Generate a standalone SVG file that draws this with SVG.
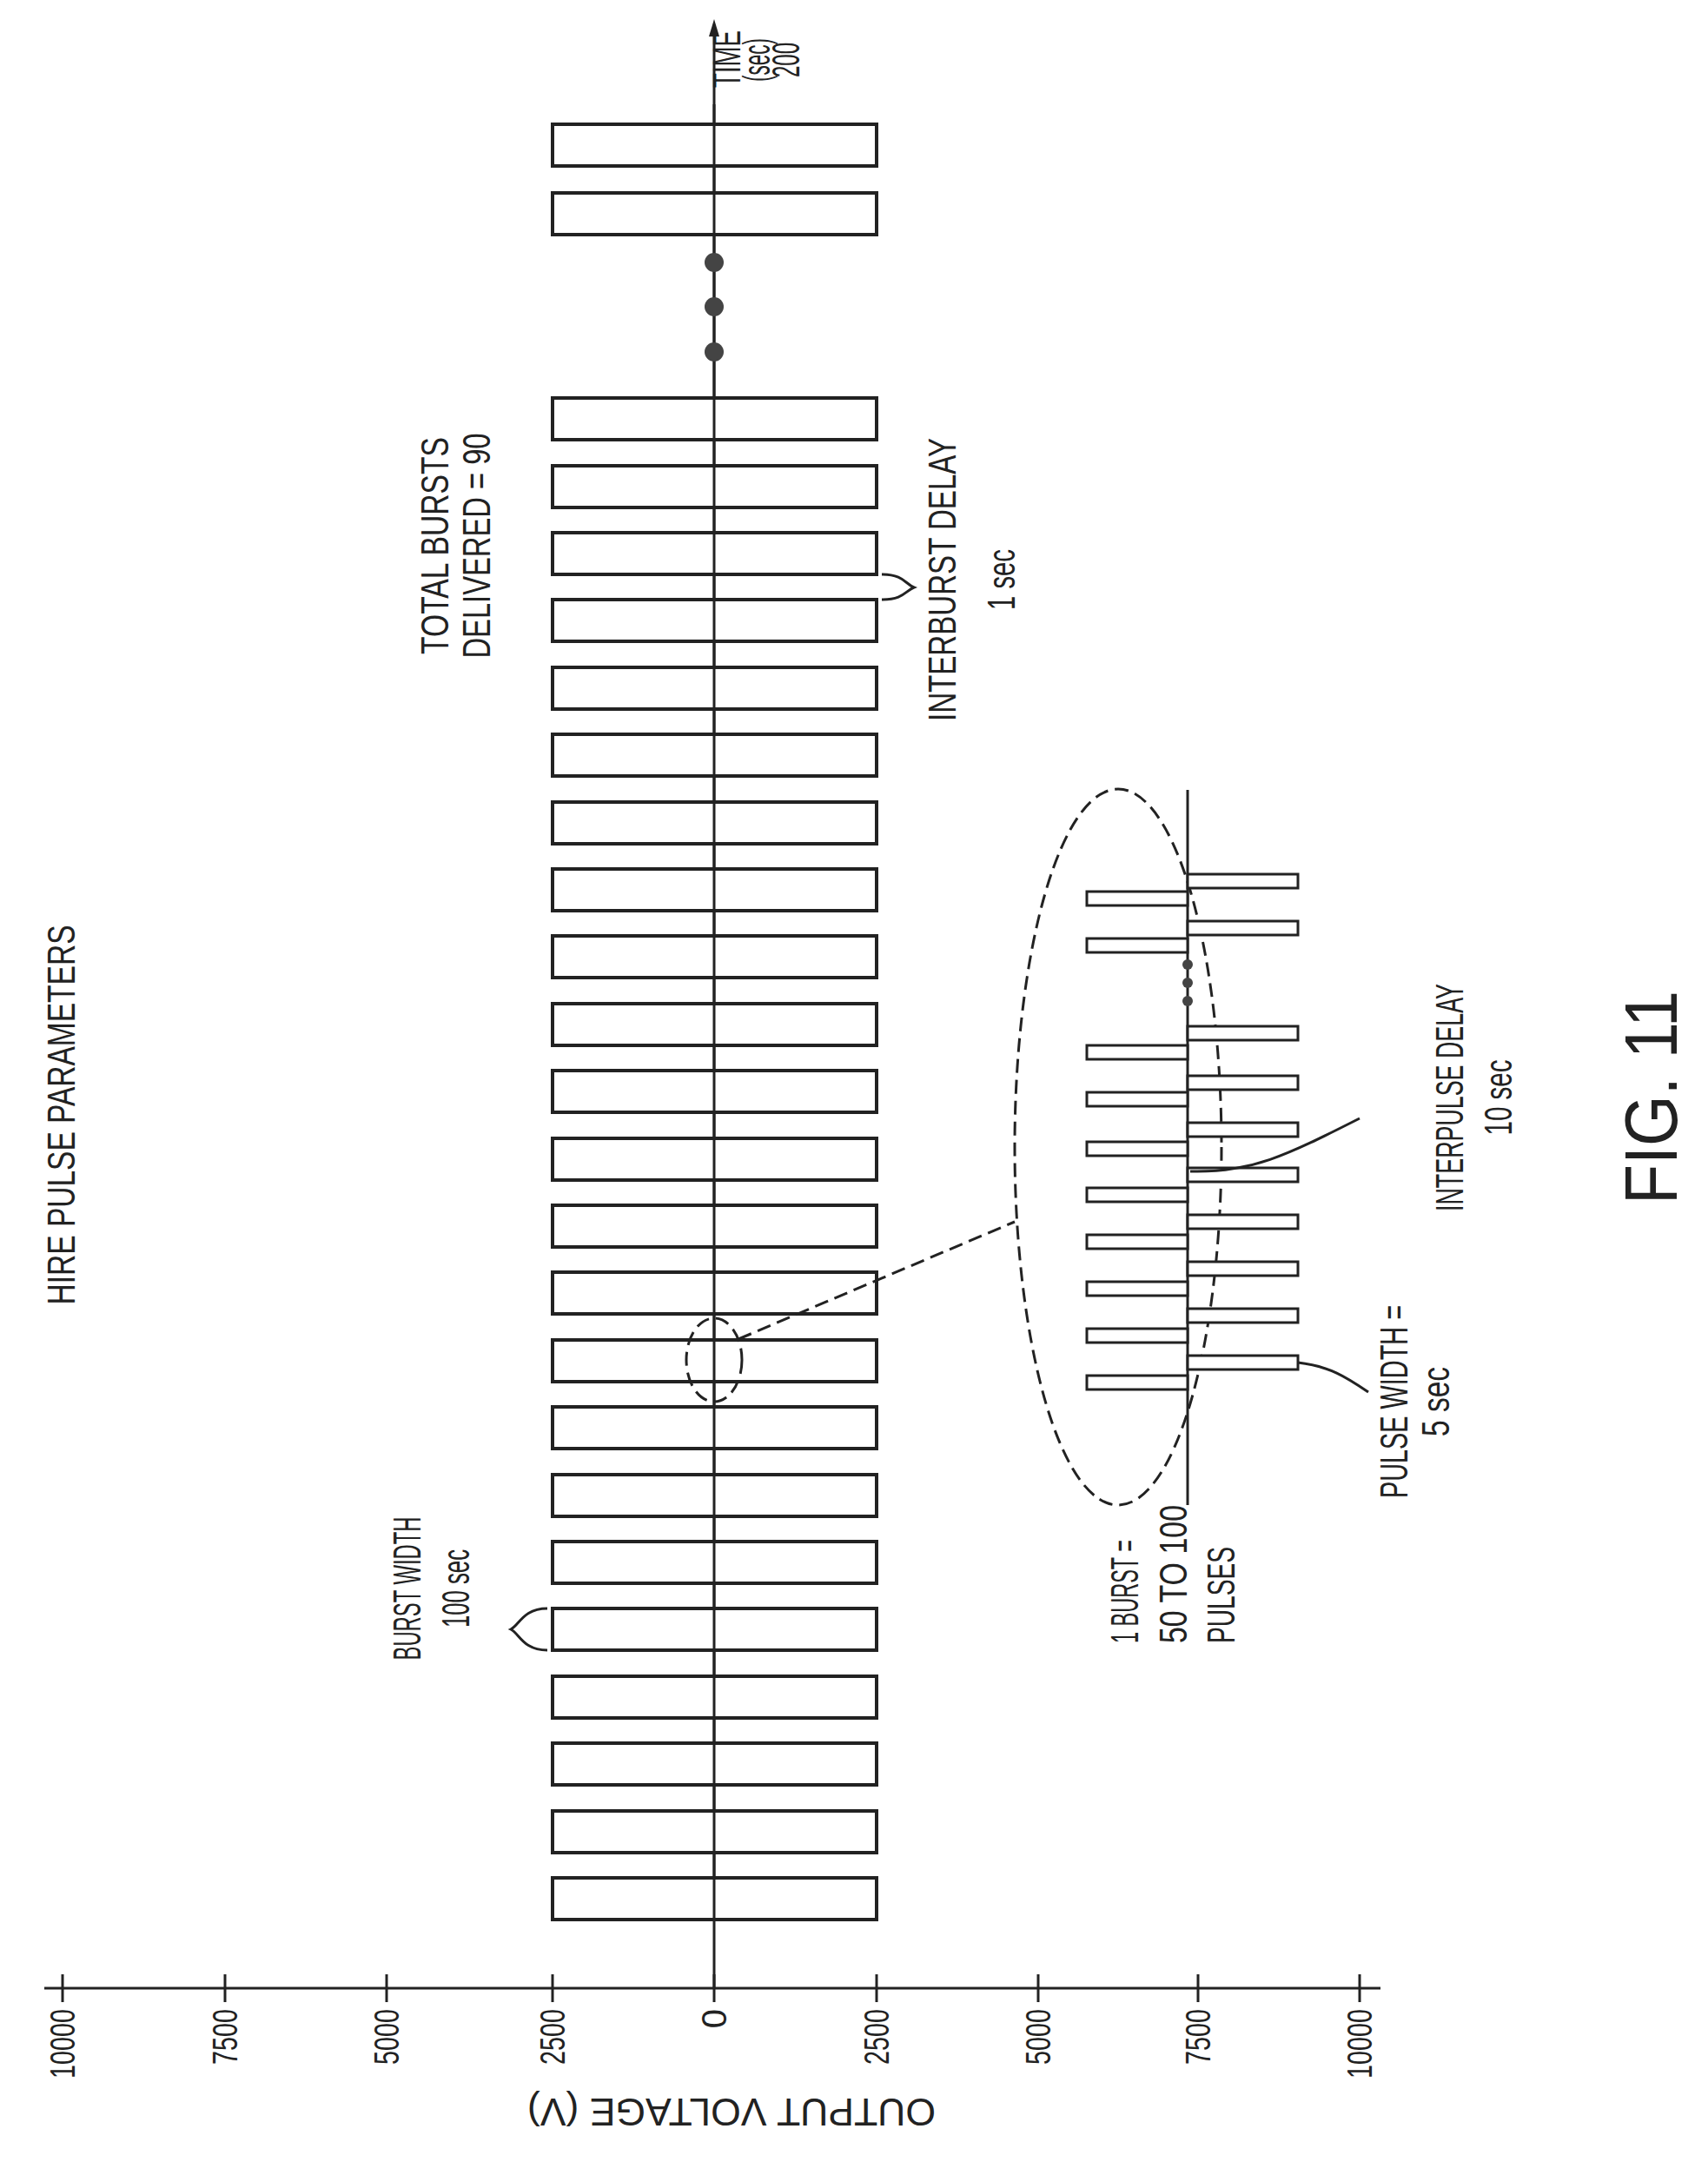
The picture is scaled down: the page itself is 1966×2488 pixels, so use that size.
<svg xmlns="http://www.w3.org/2000/svg" width="1966" height="2488" viewBox="0 0 1966 2488">
<style>
.l{stroke:#222;stroke-width:3;fill:none}
.b{stroke:#222;stroke-width:4;fill:#fff}
.p{stroke:#222;stroke-width:3;fill:#fff}
.d{stroke:#222;stroke-width:3;fill:none;stroke-dasharray:16 8}
text{font-family:"Liberation Sans",Arial,sans-serif;font-size:44px;fill:#222}
.t{font-size:40px}
</style>
<defs>
<marker id="ar" markerWidth="12" markerHeight="20" refX="6" refY="18" orient="0" markerUnits="userSpaceOnUse">
<path d="M0,20 L6,0 L12,20 Z" fill="#222"/>
</marker>
</defs>
<rect width="1966" height="2488" fill="#fff"/>
<g id="axes">
<line class="l" x1="822" y1="2288" x2="822" y2="40" marker-end="url(#ar)"/>
<line class="l" x1="51" y1="2288" x2="1589" y2="2288"/>
<g class="l">
<line x1="72" y1="2272" x2="72" y2="2304"/><line x1="259" y1="2272" x2="259" y2="2304"/><line x1="445" y1="2272" x2="445" y2="2304"/><line x1="636" y1="2272" x2="636" y2="2304"/><line x1="822" y1="2272" x2="822" y2="2304"/><line x1="1009" y1="2272" x2="1009" y2="2304"/><line x1="1195" y1="2272" x2="1195" y2="2304"/><line x1="1379" y1="2272" x2="1379" y2="2304"/><line x1="1565" y1="2272" x2="1565" y2="2304"/>
</g>
<g class="t" text-anchor="end">
<text class="t" transform="translate(86,2312) rotate(-90)" textLength="80" lengthAdjust="spacingAndGlyphs">10000</text>
<text class="t" transform="translate(273,2312) rotate(-90)" textLength="64" lengthAdjust="spacingAndGlyphs">7500</text>
<text class="t" transform="translate(459,2312) rotate(-90)" textLength="64" lengthAdjust="spacingAndGlyphs">5000</text>
<text class="t" transform="translate(650,2312) rotate(-90)" textLength="64" lengthAdjust="spacingAndGlyphs">2500</text>
<text class="t" transform="translate(836,2312) rotate(-90)">0</text>
<text class="t" transform="translate(1023,2312) rotate(-90)" textLength="64" lengthAdjust="spacingAndGlyphs">2500</text>
<text class="t" transform="translate(1209,2312) rotate(-90)" textLength="64" lengthAdjust="spacingAndGlyphs">5000</text>
<text class="t" transform="translate(1393,2312) rotate(-90)" textLength="64" lengthAdjust="spacingAndGlyphs">7500</text>
<text class="t" transform="translate(1579,2312) rotate(-90)" textLength="80" lengthAdjust="spacingAndGlyphs">10000</text>
</g>
<text transform="translate(842,2415) rotate(180)" text-anchor="middle" textLength="470" lengthAdjust="spacingAndGlyphs">OUTPUT VOLTAGE (V)</text>
<text transform="translate(852,68) rotate(-90)" text-anchor="middle" textLength="66" lengthAdjust="spacingAndGlyphs">TIME</text>
<text transform="translate(886,69) rotate(-90)" text-anchor="middle" textLength="50" lengthAdjust="spacingAndGlyphs">(sec)</text>
<text transform="translate(920,69) rotate(-90)" text-anchor="middle" textLength="40" lengthAdjust="spacingAndGlyphs">200</text>
</g>
<g id="bursts">
<rect class="b" x="636" y="2161" width="373" height="48"/>
<rect class="b" x="636" y="2084" width="373" height="48"/>
<rect class="b" x="636" y="2006" width="373" height="48"/>
<rect class="b" x="636" y="1929" width="373" height="48"/>
<rect class="b" x="636" y="1851" width="373" height="48"/>
<rect class="b" x="636" y="1774" width="373" height="48"/>
<rect class="b" x="636" y="1697" width="373" height="48"/>
<rect class="b" x="636" y="1619" width="373" height="48"/>
<rect class="b" x="636" y="1542" width="373" height="48"/>
<rect class="b" x="636" y="1464" width="373" height="48"/>
<rect class="b" x="636" y="1387" width="373" height="48"/>
<rect class="b" x="636" y="1310" width="373" height="48"/>
<rect class="b" x="636" y="1232" width="373" height="48"/>
<rect class="b" x="636" y="1155" width="373" height="48"/>
<rect class="b" x="636" y="1077" width="373" height="48"/>
<rect class="b" x="636" y="1000" width="373" height="48"/>
<rect class="b" x="636" y="923" width="373" height="48"/>
<rect class="b" x="636" y="845" width="373" height="48"/>
<rect class="b" x="636" y="768" width="373" height="48"/>
<rect class="b" x="636" y="690" width="373" height="48"/>
<rect class="b" x="636" y="613" width="373" height="48"/>
<rect class="b" x="636" y="536" width="373" height="48"/>
<rect class="b" x="636" y="458" width="373" height="48"/>
<rect class="b" x="636" y="222" width="373" height="48"/>
<rect class="b" x="636" y="143" width="373" height="48"/>
<line class="l" x1="822" y1="2209" x2="822" y2="120"/>
<circle cx="822" cy="302" r="11" fill="#444"/>
<circle cx="822" cy="353" r="11" fill="#444"/>
<circle cx="822" cy="405" r="11" fill="#444"/>
</g>
<g id="title"><text transform="translate(86,1283) rotate(-90)" text-anchor="middle" textLength="437" lengthAdjust="spacingAndGlyphs">HIRE PULSE PARAMETERS</text></g>
<g id="burst-width">
<path class="l" d="M630,1851 C602,1851 598,1870 588,1875 C598,1880 602,1899 630,1899"/>
<text transform="translate(484,1828) rotate(-90)" text-anchor="middle" textLength="165" lengthAdjust="spacingAndGlyphs">BURST WIDTH</text>
<text transform="translate(540,1828) rotate(-90)" text-anchor="middle" textLength="90" lengthAdjust="spacingAndGlyphs">100 sec</text>
</g>
<g id="total-bursts">
<text transform="translate(516,628) rotate(-90)" text-anchor="middle" textLength="250" lengthAdjust="spacingAndGlyphs">TOTAL BURSTS</text>
<text transform="translate(564,628) rotate(-90)" text-anchor="middle" textLength="259" lengthAdjust="spacingAndGlyphs">DELIVERED = 90</text>
</g>
<g id="interburst">
<path class="l" d="M1015,661 C1040,661 1042,672 1052,676 C1042,680 1040,690 1015,690"/>
<text transform="translate(1100,667) rotate(-90)" text-anchor="middle" textLength="326" lengthAdjust="spacingAndGlyphs">INTERBURST DELAY</text>
<text transform="translate(1168,667) rotate(-90)" text-anchor="middle" textLength="70" lengthAdjust="spacingAndGlyphs">1 sec</text>
</g>
<g id="zoom">
<ellipse class="d" cx="822" cy="1565" rx="32" ry="48"/>
<line class="d" x1="850" y1="1541" x2="1168" y2="1406"/>
<ellipse class="d" cx="1287" cy="1320" rx="119" ry="412"/>
<line class="l" x1="1367" y1="909" x2="1367" y2="1732"/>
<g>
<rect class="p" x="1251" y="1583" width="116" height="16"/>
<rect class="p" x="1251" y="1529" width="116" height="16"/>
<rect class="p" x="1251" y="1475" width="116" height="16"/>
<rect class="p" x="1251" y="1421" width="116" height="16"/>
<rect class="p" x="1251" y="1367" width="116" height="16"/>
<rect class="p" x="1251" y="1314" width="116" height="16"/>
<rect class="p" x="1251" y="1257" width="116" height="16"/>
<rect class="p" x="1251" y="1203" width="116" height="16"/>
<rect class="p" x="1251" y="1080" width="116" height="16"/>
<rect class="p" x="1251" y="1026" width="116" height="16"/>
<rect class="p" x="1367" y="1560" width="127" height="16"/>
<rect class="p" x="1367" y="1506" width="127" height="16"/>
<rect class="p" x="1367" y="1452" width="127" height="16"/>
<rect class="p" x="1367" y="1398" width="127" height="16"/>
<rect class="p" x="1367" y="1344" width="127" height="16"/>
<rect class="p" x="1367" y="1292" width="127" height="16"/>
<rect class="p" x="1367" y="1238" width="127" height="16"/>
<rect class="p" x="1367" y="1181" width="127" height="16"/>
<rect class="p" x="1367" y="1060" width="127" height="16"/>
<rect class="p" x="1367" y="1006" width="127" height="16"/>
</g>
<circle cx="1367" cy="1110" r="6" fill="#444"/>
<circle cx="1367" cy="1131" r="6" fill="#444"/>
<circle cx="1367" cy="1152" r="6" fill="#444"/>
<path class="l" d="M1370,1348 C1440,1350 1480,1330 1565,1287"/>
<path class="l" d="M1494,1568 C1530,1572 1550,1585 1575,1602"/>
<text transform="translate(1310,1891) rotate(-90)" textLength="119" lengthAdjust="spacingAndGlyphs">1 BURST =</text>
<text transform="translate(1366,1891) rotate(-90)" textLength="159" lengthAdjust="spacingAndGlyphs">50 TO 100</text>
<text transform="translate(1421,1891) rotate(-90)" textLength="111" lengthAdjust="spacingAndGlyphs">PULSES</text>
<text transform="translate(1620,1613) rotate(-90)" text-anchor="middle" textLength="222" lengthAdjust="spacingAndGlyphs">PULSE WIDTH =</text>
<text transform="translate(1668,1613) rotate(-90)" text-anchor="middle" textLength="80" lengthAdjust="spacingAndGlyphs">5 sec</text>
<text transform="translate(1684,1263) rotate(-90)" text-anchor="middle" textLength="262" lengthAdjust="spacingAndGlyphs">INTERPULSE DELAY</text>
<text transform="translate(1740,1263) rotate(-90)" text-anchor="middle" textLength="87" lengthAdjust="spacingAndGlyphs">10 sec</text>
</g>
<g id="fig"><text transform="translate(1930,1263) rotate(-90)" text-anchor="middle" style="font-size:86px" textLength="246" lengthAdjust="spacingAndGlyphs">FIG. 11</text></g>
</svg>
